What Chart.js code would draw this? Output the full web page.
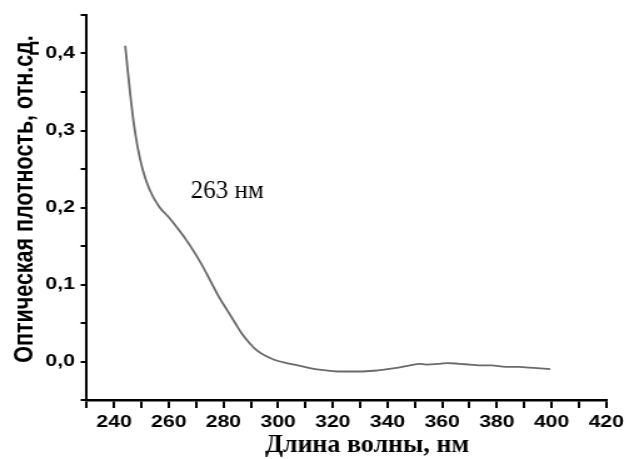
<!DOCTYPE html>
<html><head><meta charset="utf-8">
<script src="https://cdn.jsdelivr.net/npm/chart.js@4/dist/chart.umd.min.js"></script>
<style>
html,body{margin:0;padding:0;background:#fff;overflow:hidden;width:629px;height:459px;}
#wrap{width:503px;height:459px;transform:scaleX(1.2505);transform-origin:0 0;}
canvas{display:block;}
</style></head><body>
<div id="wrap"><canvas id="c" width="503" height="459"></canvas></div>
<script>
// Data
const wavelength = [244.1,245.0,246.0,247.2,248.7,250.5,252.9,256.5,260.1,262.6,266.2,269.0,272.2,275.2,278.2,281.3,284.3,287.0,289.5,292.0,295.0,298.8,303.0,307.2,312.0,316.0,321.7,326.0,330.1,335.0,339.8,344.0,348.2,351.8,354.0,359.1,362.0,366.3,370.0,373.5,378.0,383.2,388.0,392.0,396.0,399.5];
const absorbance = [0.410,0.378,0.345,0.310,0.277,0.249,0.224,0.201,0.187,0.176,0.159,0.144,0.125,0.105,0.085,0.067,0.050,0.035,0.024,0.015,0.008,0.002,-0.002,-0.005,-0.009,-0.011,-0.013,-0.013,-0.013,-0.012,-0.010,-0.008,-0.005,-0.003,-0.004,-0.003,-0.002,-0.003,-0.004,-0.005,-0.005,-0.007,-0.007,-0.008,-0.009,-0.010];
const xMajorTicks = [240,260,280,300,320,340,360,380,400,420];
const yMajorTicks = [0.0,0.1,0.2,0.3,0.4];
const xTitle = 'Длина волны, нм';
const yTitle = 'Оптическая плотность, отн.сд.';
const peakLabel = '263 нм';
const peakLabelAt = [268.1, 0.2215];

const K = 1.2505; // horizontal stretch of the reference image

const points = wavelength.map((w,i)=>({x:w, y:absorbance[i]}));

const textPlugin = {
  id:'texts',
  afterDraw(chart){
    const ctx = chart.ctx;
    const xs = chart.scales.x, ys = chart.scales.y;
    ctx.save();
    ctx.fillStyle = '#000';
    ctx.font = 'bold 21.5px "Liberation Sans", Arial, sans-serif';
    ctx.textAlign = 'center';
    ctx.textBaseline = 'alphabetic';
    ctx.translate(26.4, 199);
    ctx.rotate(-Math.PI/2);
    ctx.fillText(yTitle, 0, 0);
    ctx.restore();
    ctx.save();
    ctx.scale(1/K, 1);
    ctx.fillStyle = '#000';
    ctx.font = 'bold 26px "Liberation Serif", "Times New Roman", serif';
    ctx.textAlign = 'center';
    ctx.textBaseline = 'alphabetic';
    ctx.fillText(xTitle, 367, 452);
    ctx.font = '25px "Liberation Serif", "Times New Roman", serif';
    ctx.textAlign = 'left';
    ctx.textBaseline = 'middle';
    ctx.fillText(peakLabel, xs.getPixelForValue(peakLabelAt[0])*K, ys.getPixelForValue(peakLabelAt[1]));
    ctx.restore();
  }
};

const isMajor = (v, list) => list.some(t => Math.abs(t - v) < 1e-6);

new Chart(document.getElementById('c'), {
  type:'line',
  data:{datasets:[{
    data: points,
    borderColor:'#6a6a6a',
    borderWidth:1.8,
    pointRadius:0,
    fill:false,
    cubicInterpolationMode:'monotone'
  }]},
  options:{
    responsive:false,
    animation:false,
    events:[],
    layout:{padding:{top:15,right:13.8,left:0,bottom:0}},
    plugins:{legend:{display:false},tooltip:{enabled:false}},
    scales:{
      x:{
        type:'linear', min:230, max:420,
        afterFit(s){ s.height = 59; },
        border:{display:true,color:'#000',width:2.5},
        grid:{display:true,drawOnChartArea:false,drawTicks:true,tickLength:8,color:'#000',lineWidth:2},
        ticks:{stepSize:10,autoSkip:false,maxRotation:0,padding:4,color:'#000',
          font:{family:'"Liberation Sans", Arial, sans-serif',weight:'bold',size:17},
          callback(v){ return isMajor(v, xMajorTicks) ? String(v) : ''; }},
        title:{display:false}
      },
      y:{
        type:'linear', min:-0.05, max:0.45,
        afterFit(s){ s.width = 69.3; },
        border:{display:true,color:'#000',width:2},
        grid:{display:true,drawOnChartArea:false,drawTicks:true,tickLength:4.8,color:'#000',lineWidth:2},
        ticks:{stepSize:0.05,autoSkip:false,padding:4.5,color:'#000',
          font:{family:'"Liberation Sans", Arial, sans-serif',weight:'bold',size:17},
          callback(v){ return isMajor(v, yMajorTicks) ? v.toFixed(1).replace('.', ',') : ''; }},
        title:{display:false}
      }
    }
  },
  plugins:[textPlugin]
});
</script>
</body></html>
